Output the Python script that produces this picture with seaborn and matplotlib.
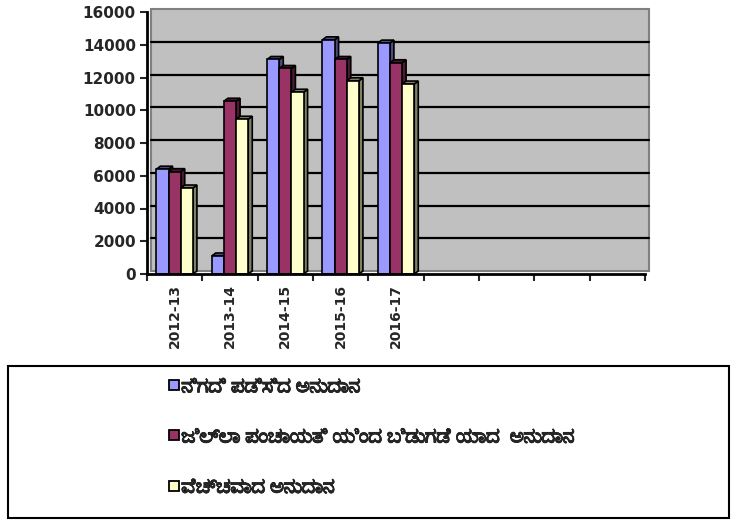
import numpy as np
import pandas as pd
import matplotlib
matplotlib.use("Agg")
import matplotlib.pyplot as plt
import seaborn as sns
from matplotlib import font_manager as fm
from matplotlib import patheffects as pe
from matplotlib.patches import Polygon, Rectangle
from matplotlib.lines import Line2D
from matplotlib.transforms import ScaledTranslation

# ---------------- data ----------------
years = ["2012-13", "2013-14", "2014-15", "2015-16", "2016-17"]
n_slots = 9  # category slots on the axis (last four empty)
series_names = ["ನಿಗದಿ ಪಡಿಸಿದ ಅನುದಾನ",
                "ಜಿಲ್ಲಾ ಪಂಚಾಯತಿ ಯಿಂದ ಬಿಡುಗಡೆ ಯಾದ  ಅನುದಾನ",
                "ವೆಚ್ಚವಾದ ಅನುದಾನ"]
allotted = [6400, 1100, 13100, 14300, 14100]
released = [6250, 10550, 12550, 13100, 12900]
spent = [5250, 9450, 11100, 11800, 11600]
y_ticks = [0, 2000, 4000, 6000, 8000, 10000, 12000, 14000, 16000]

front_colors = ["#9999FF", "#993366", "#FFFFCC"]
side_colors = ["#4D4D80", "#4D1A33", "#808066"]

# ---------------- fonts ----------------
sns.set_style("white")
kn_family = None
try:
    from matplotlib.ft2font import FT2Font
    cands = []
    for f in fm.findSystemFonts():
        try:
            ft = FT2Font(f)
            if 0x0C85 in ft.get_charmap():
                cands.append(f)
        except Exception:
            pass
    cands.sort(key=lambda p: (0 if "bold" in p.lower() else 1, p))
    if cands:
        fm.fontManager.addfont(cands[0])
        kn_family = fm.FontProperties(fname=cands[0]).get_name()
except Exception:
    kn_family = None
plt.rcParams["font.family"] = ["DejaVu Sans"]
leg_families = ([kn_family] if kn_family else []) + ["DejaVu Sans"]

# ---------------- frame ----------------
df = pd.DataFrame({
    "year": years * 3,
    "value": allotted + released + spent,
    "series": [series_names[0]] * 5 + [series_names[1]] * 5 + [series_names[2]] * 5,
})

W, H = 739, 523
fig = plt.figure(figsize=(W / 100, H / 100), dpi=100)
ax = fig.add_axes([147 / W, 1 - 274 / H, (645 - 147) / W, (274 - 12) / H])
ax.set_facecolor("none")

sns.barplot(data=df, x="year", y="value", hue="series", order=years,
            hue_order=series_names, palette=front_colors, width=0.66,
            edgecolor="black", linewidth=1.2, saturation=1, ax=ax,
            legend=False, zorder=3)

ax.set_xlim(-0.5, n_slots - 0.5)
ax.set_ylim(0, 16000)

# 3-D depth offset (pixels)
dxp, dyp = 4, 3
off = ScaledTranslation(dxp / 100, dyp / 100, fig.dpi_scale_trans)

# back wall + floor
wall = Rectangle((0, 0), 1, 1, transform=ax.transAxes + off,
                 facecolor="#C0C0C0", edgecolor="#808080", lw=1.5, zorder=0,
                 clip_on=False)
ax.add_patch(wall)
# gridlines on wall
for yv in y_ticks[1:-1]:
    ax.plot([-0.5, n_slots - 0.5], [yv, yv], transform=ax.transData + off,
            color="black", lw=1.6, zorder=1, clip_on=False)

# 3-D sides for bars
xr = n_slots
px_per_x = (645 - 147) / xr
px_per_y = (274 - 12) / 16000
ddx = dxp / px_per_x
ddy = dyp / px_per_y
for i, container in enumerate(ax.containers):
    for p in container:
        x0, y0 = p.get_x(), p.get_y()
        w, h = p.get_width(), p.get_height()
        if np.isnan(h):
            continue
        x1, y1 = x0 + w, y0 + h
        side = Polygon([[x1, y0], [x1 + ddx, y0 + ddy], [x1 + ddx, y1 + ddy], [x1, y1]],
                       closed=True, facecolor=side_colors[i], edgecolor="black",
                       lw=1.2, zorder=2.5)
        top = Polygon([[x0, y1], [x0 + ddx, y1 + ddy], [x1 + ddx, y1 + ddy], [x1, y1]],
                      closed=True, facecolor=side_colors[i], edgecolor="black",
                      lw=1.2, zorder=2.5)
        ax.add_patch(side)
        ax.add_patch(top)

# axes styling
for s in ["top", "right"]:
    ax.spines[s].set_visible(False)
for s in ["left", "bottom"]:
    ax.spines[s].set_color("black")
    ax.spines[s].set_linewidth(2)
    ax.spines[s].set_zorder(5)

ax.set_yticks(y_ticks)
ax.set_yticklabels([str(v) for v in y_ticks], fontsize=11, fontweight="bold")
ax.tick_params(axis="y", direction="out", length=5, width=1.5, pad=3, left=True)

ax.set_xticks(range(len(years)))
ax.set_xticklabels(years, rotation=90, fontsize=10, fontweight="bold")
ax.set_xticks(np.arange(-0.5, n_slots, 1.0), minor=True)
ax.tick_params(axis="x", which="major", length=0, pad=7)
ax.tick_params(axis="x", which="minor", direction="out", length=5, width=1.5, bottom=True)
ax.set_xlabel("")
ax.set_ylabel("")

# legend box
box = Rectangle((8 / W, 1 - 518 / H), (729 - 8) / W, (518 - 366) / H,
                transform=fig.transFigure, facecolor="white", edgecolor="black",
                lw=1.5, zorder=0)
fig.add_artist(box)
handles = [Line2D([], [], marker="s", linestyle="none", markersize=7,
                  markerfacecolor=c, markeredgecolor="black", markeredgewidth=1.3)
           for c in front_colors]
leg = fig.legend(handles, series_names, loc="upper left",
                 bbox_to_anchor=(149 / W, 1 - 359 / H), frameon=False,
                 handlelength=0.6, handletextpad=0.05, labelspacing=1.52,
                 prop={"family": leg_families, "size": 15, "weight": "bold"})
for t in leg.get_texts():
    t.set_path_effects([pe.withStroke(linewidth=0.45, foreground="black")])

fig.savefig("out.png", dpi=100)
